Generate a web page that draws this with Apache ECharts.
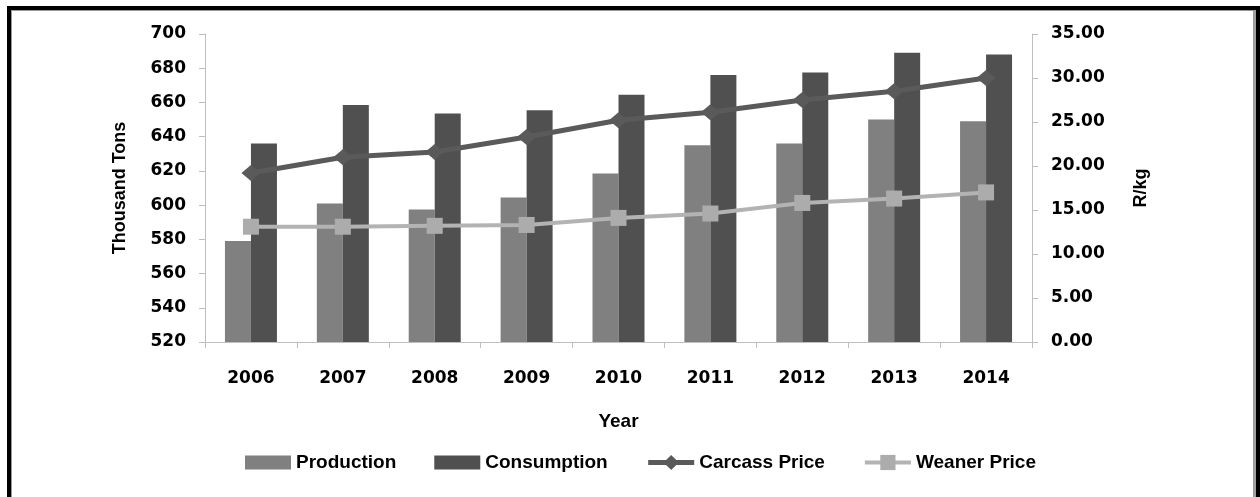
<!DOCTYPE html>
<html>
<head>
<meta charset="utf-8">
<script src="https://cdn.jsdelivr.net/npm/echarts@6/dist/echarts.min.js"></script>
<style>
  html, body { margin: 0; padding: 0; background: #fff; }
  #frame {
    position: absolute; left: 7px; top: 6px; width: 1245px; height: 487px;
    border-left: 4px solid #000; border-top: 4px solid #000; border-right: 4px solid #000;
    border-bottom: 2px solid #9a9a9a;
  }
  #inner {
    position: absolute; left: 0; top: 0; right: 0; bottom: 0;
    border-left: 1px solid #9a9a9a; border-top: 1px solid #9a9a9a; border-right: 3px solid #a0a0a0;
  }
  #chart { position: absolute; left: 0; top: 0; width: 1260px; height: 497px; }
</style>
</head>
<body>
<div id="frame"><div id="inner"></div></div>
<div id="chart"></div>
<script>
// Years on the category axis
const years = ['2006', '2007', '2008', '2009', '2010', '2011', '2012', '2013', '2014'];
// Thousand tons
const production = [579, 601, 597.5, 604.5, 618.5, 635, 636, 650, 649];
const consumption = [636, 658.5, 653.5, 655.5, 664.5, 676, 677.5, 689, 688];
// R/kg
const carcassPrice = [19.2, 21.0, 21.6, 23.3, 25.2, 26.1, 27.5, 28.5, 30.0];
const weanerPrice = [13.1, 13.1, 13.2, 13.3, 14.1, 14.6, 15.8, 16.3, 17.0];

const tickFont = { fontFamily: 'DejaVu Sans', fontWeight: 'bold', fontSize: 17, color: '#000' };
const titleFont = { fontFamily: 'Liberation Sans', fontWeight: 'bold', fontSize: 18, color: '#000' };
const axisGrey = '#bfbfbf';

// Flat swatch for the bar entries: padded box so it stays 14px tall inside a 19px legend row
const swatch = 'path://M0,0M0,2.5L46,2.5L46,16.5L0,16.5ZM46,19';

const chart = echarts.init(document.getElementById('chart'), null, { renderer: 'canvas' });
chart.setOption({
  animation: false,
  backgroundColor: 'transparent',
  grid: { left: 205, right: 228, top: 34, bottom: 155, containLabel: false },
  legend: {
    bottom: 20,
    left: 240,
    itemWidth: 46,
    itemHeight: 19,
    itemGap: 38,
    lineStyle: { width: 'inherit' },
    textStyle: Object.assign({}, titleFont, { fontSize: 19 }),
    data: [
      { name: 'Production', icon: swatch },
      { name: 'Consumption', icon: swatch },
      'Carcass Price',
      'Weaner Price'
    ]
  },
  xAxis: {
    type: 'category',
    data: years,
    name: 'Year',
    nameLocation: 'middle',
    nameGap: 70,
    nameTextStyle: Object.assign({}, titleFont, { fontSize: 19 }),
    axisLine: { lineStyle: { color: axisGrey, width: 1 } },
    axisTick: { show: true, alignWithLabel: false, length: 6, lineStyle: { color: axisGrey } },
    axisLabel: Object.assign({ margin: 28 }, tickFont),
    splitLine: { show: false }
  },
  yAxis: [
    {
      type: 'value',
      min: 520, max: 700, interval: 20,
      name: 'Thousand Tons',
      nameLocation: 'middle',
      nameGap: 76,
      nameRotate: 90,
      nameTextStyle: titleFont,
      axisLine: { show: true, lineStyle: { color: axisGrey } },
      axisTick: { show: true, length: 6, lineStyle: { color: axisGrey } },
      axisLabel: Object.assign({ margin: 19 }, tickFont),
      splitLine: { show: false }
    },
    {
      type: 'value',
      min: 0, max: 35, interval: 5,
      name: 'R/kg',
      nameLocation: 'middle',
      nameGap: 100,
      nameRotate: 90,
      nameTextStyle: titleFont,
      axisLine: { show: true, lineStyle: { color: axisGrey } },
      axisTick: { show: true, length: 6, lineStyle: { color: axisGrey } },
      axisLabel: Object.assign({ margin: 19, formatter: v => v.toFixed(2) }, tickFont),
      splitLine: { show: false }
    }
  ],
  series: [
    {
      name: 'Production', type: 'bar', yAxisIndex: 0, data: production,
      barWidth: 26, barGap: '0%',
      itemStyle: { color: '#808080' }
    },
    {
      name: 'Consumption', type: 'bar', yAxisIndex: 0, data: consumption,
      barWidth: 26, barGap: '0%',
      itemStyle: { color: '#505050' }
    },
    {
      name: 'Carcass Price', type: 'line', yAxisIndex: 1, data: carcassPrice,
      symbol: 'diamond', symbolSize: [19, 16],
      lineStyle: { color: '#5a5a5a', width: 5 },
      itemStyle: { color: '#5a5a5a' },
      z: 5
    },
    {
      name: 'Weaner Price', type: 'line', yAxisIndex: 1, data: weanerPrice,
      symbol: 'rect', symbolSize: 16,
      lineStyle: { color: '#b3b3b3', width: 4 },
      itemStyle: { color: '#acacac' },
      z: 5
    }
  ]
});
</script>
</body>
</html>
